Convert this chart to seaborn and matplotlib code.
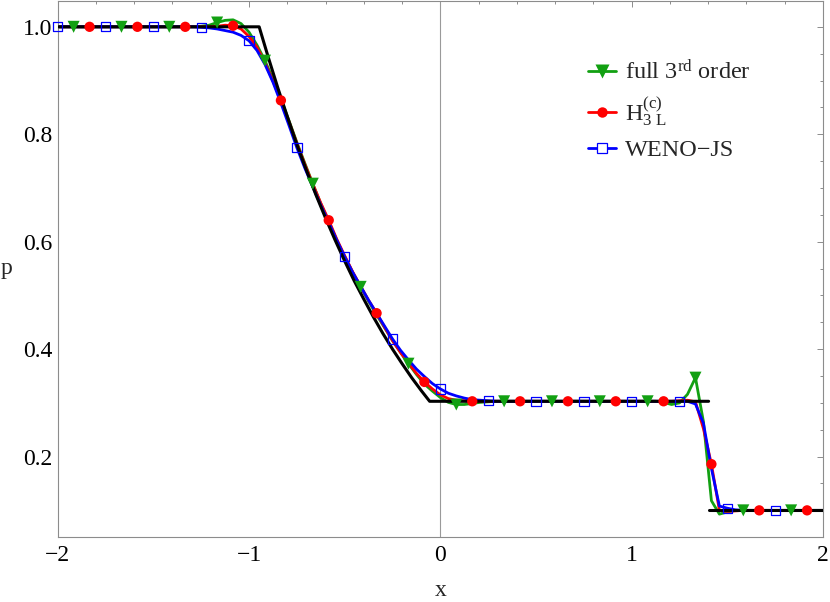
import numpy as np
import matplotlib
matplotlib.use('Agg')
import matplotlib.pyplot as plt
import seaborn as sns
from matplotlib.lines import Line2D
from matplotlib.ticker import MultipleLocator

# sample grid of the numerical solutions (dx = 1/24 on [-2, 2])
x_grid = np.linspace(-2.0, 2.0, 97)

# full 3rd order
p_full3 = ([1.0] * 18 +
           [1.001, 1.003, 1.008, 1.012, 1.013, 1.006, 0.990, 0.966, 0.937, 0.903,
            0.866, 0.826, 0.785, 0.746, 0.708, 0.671, 0.637, 0.603, 0.572, 0.543,
            0.516, 0.489, 0.464, 0.440, 0.416, 0.394, 0.373, 0.353, 0.335, 0.322,
            0.310, 0.301, 0.297, 0.297, 0.299, 0.301, 0.302] +
           [0.303] * 21 +
           [0.301, 0.297, 0.300, 0.316, 0.347, 0.265, 0.118, 0.093, 0.097] +
           [0.100] * 12)

# H3L(c)
p_h3l = ([1.0] * 20 +
         [1.001, 1.003, 1.002, 0.996, 0.982, 0.962, 0.933, 0.899, 0.863, 0.824,
          0.783, 0.744, 0.707, 0.672, 0.640, 0.605, 0.574, 0.544, 0.517, 0.491,
          0.467, 0.441, 0.416, 0.394, 0.374, 0.355, 0.339, 0.326, 0.315, 0.308,
          0.305, 0.304] +
         [0.303] * 26 +
         [0.304, 0.305, 0.302, 0.252, 0.186, 0.100, 0.098, 0.099] +
         [0.100] * 11)

# WENO-JS
p_weno = ([1.0] * 18 +
          [0.999, 0.998, 0.996, 0.993, 0.990, 0.984, 0.974, 0.956, 0.930, 0.897,
           0.858, 0.817, 0.775, 0.737, 0.702, 0.668, 0.636, 0.603, 0.572, 0.543,
           0.517, 0.491, 0.467, 0.443, 0.419, 0.398, 0.380, 0.363, 0.349, 0.336,
           0.326, 0.318, 0.313, 0.309, 0.306, 0.305, 0.304] +
          [0.303] * 24 +
          [0.303, 0.298, 0.262, 0.178, 0.108, 0.104, 0.101] +
          [0.100] * 11)

# exact solution
exact_x = [-2.0, -0.947, -0.9, -0.85, -0.8, -0.75, -0.7, -0.65, -0.6, -0.55, -0.5,
           -0.45, -0.4, -0.35, -0.3, -0.25, -0.2, -0.15, -0.1, -0.056, 1.402]
exact_p = [1.0, 1.0, 0.944, 0.887, 0.833, 0.781, 0.733, 0.687, 0.644, 0.603, 0.564,
           0.527, 0.493, 0.460, 0.429, 0.400, 0.373, 0.347, 0.323, 0.303, 0.303]
exact_x_right = [1.402, 2.0]
exact_p_right = [0.100, 0.100]

labels = ['full 3$^{\\mathrm{rd}}$ order',
          '$\\mathrm{H}^{(\\mathrm{c})}_{3\\ \\mathrm{L}}$',
          'WENO\u2212JS']
green, red, blue = '#12a012', '#ff0000', '#0000ff'

sns.set_theme(style='white')
plt.rcParams['font.family'] = ['Liberation Serif', 'DejaVu Serif']
plt.rcParams['mathtext.fontset'] = 'custom'
plt.rcParams['mathtext.rm'] = 'Liberation Serif'
plt.rcParams['mathtext.it'] = 'Liberation Serif:italic'
plt.rcParams['mathtext.bf'] = 'Liberation Serif:bold'

fig = plt.figure(figsize=(8.3, 6.02), dpi=100)
ax = fig.add_axes([0.0695, 0.1085, 0.9221, 0.8898])

ax.axvline(0, color='#9a9a9a', lw=0.8, zorder=1)

# lines
for p, c in [(p_full3, green), (p_h3l, red), (p_weno, blue)]:
    sns.lineplot(x=x_grid, y=p, color=c, lw=2.0, estimator=None, sort=False,
                 ax=ax, zorder=2)

# exact solution on top of the lines
sns.lineplot(x=exact_x, y=exact_p, color='black', lw=2.2, estimator=None,
             sort=False, ax=ax, zorder=3)
sns.lineplot(x=exact_x_right, y=exact_p_right, color='black', lw=2.2,
             estimator=None, sort=False, ax=ax, zorder=3)

# markers
sns.scatterplot(x=x_grid[2::6], y=p_full3[2::6], marker='v', s=75, color=green,
                edgecolor='none', ax=ax, zorder=4, clip_on=False)
sns.scatterplot(x=x_grid[4::6], y=p_h3l[4::6], marker='o', s=55, color=red,
                edgecolor='none', ax=ax, zorder=4, clip_on=False)
sns.scatterplot(x=x_grid[0:96:6], y=p_weno[0:96:6], marker='s', s=45,
                facecolor='none', edgecolor=blue, linewidth=0.9, ax=ax,
                zorder=4, clip_on=False)

ax.set_xlim(-2, 2)
ax.set_ylim(0.051, 1.048)
ax.xaxis.set_major_locator(MultipleLocator(1))
ax.xaxis.set_minor_locator(MultipleLocator(0.2))
ax.yaxis.set_major_locator(MultipleLocator(0.2))
ax.yaxis.set_minor_locator(MultipleLocator(0.05))
ax.set_yticks([0.2, 0.4, 0.6, 0.8, 1.0])
ax.set_yticklabels(['0.2', '0.4', '0.6', '0.8', '1.0'])

for s in ax.spines.values():
    s.set_color('#8c8c8c')
    s.set_linewidth(0.8)
ax.tick_params(which='both', direction='in', top=True, right=True,
               color='#8c8c8c', width=0.7, labelsize=17, labelcolor='black')
ax.tick_params(which='major', length=4.5)
ax.tick_params(which='minor', length=2.5)
ax.tick_params(axis='x', pad=6)
ax.tick_params(axis='y', pad=4)

ax.set_xlabel('x', fontsize=17)
ax.xaxis.set_label_coords(0.5, -0.08)
ax.set_ylabel('p', fontsize=17, rotation=0, va='center', ha='center')
ax.yaxis.set_label_coords(-0.067, 0.5)

handles = [
    Line2D([], [], color=green, lw=2.0, marker='v', ms=9.5, mec='none'),
    Line2D([], [], color=red, lw=2.0, marker='o', ms=7.5, mec='none'),
    Line2D([], [], color=blue, lw=2.0, marker='s', ms=6.5, mfc='white',
           mec=blue, mew=0.9),
]
ax.legend(handles, labels, loc='upper left', bbox_to_anchor=(0.693, 0.89),
          frameon=False, fontsize=17.5, handlelength=1.15, handletextpad=0.35,
          labelspacing=0.45, borderpad=0, borderaxespad=0)

fig.savefig('out.png', dpi=100)
